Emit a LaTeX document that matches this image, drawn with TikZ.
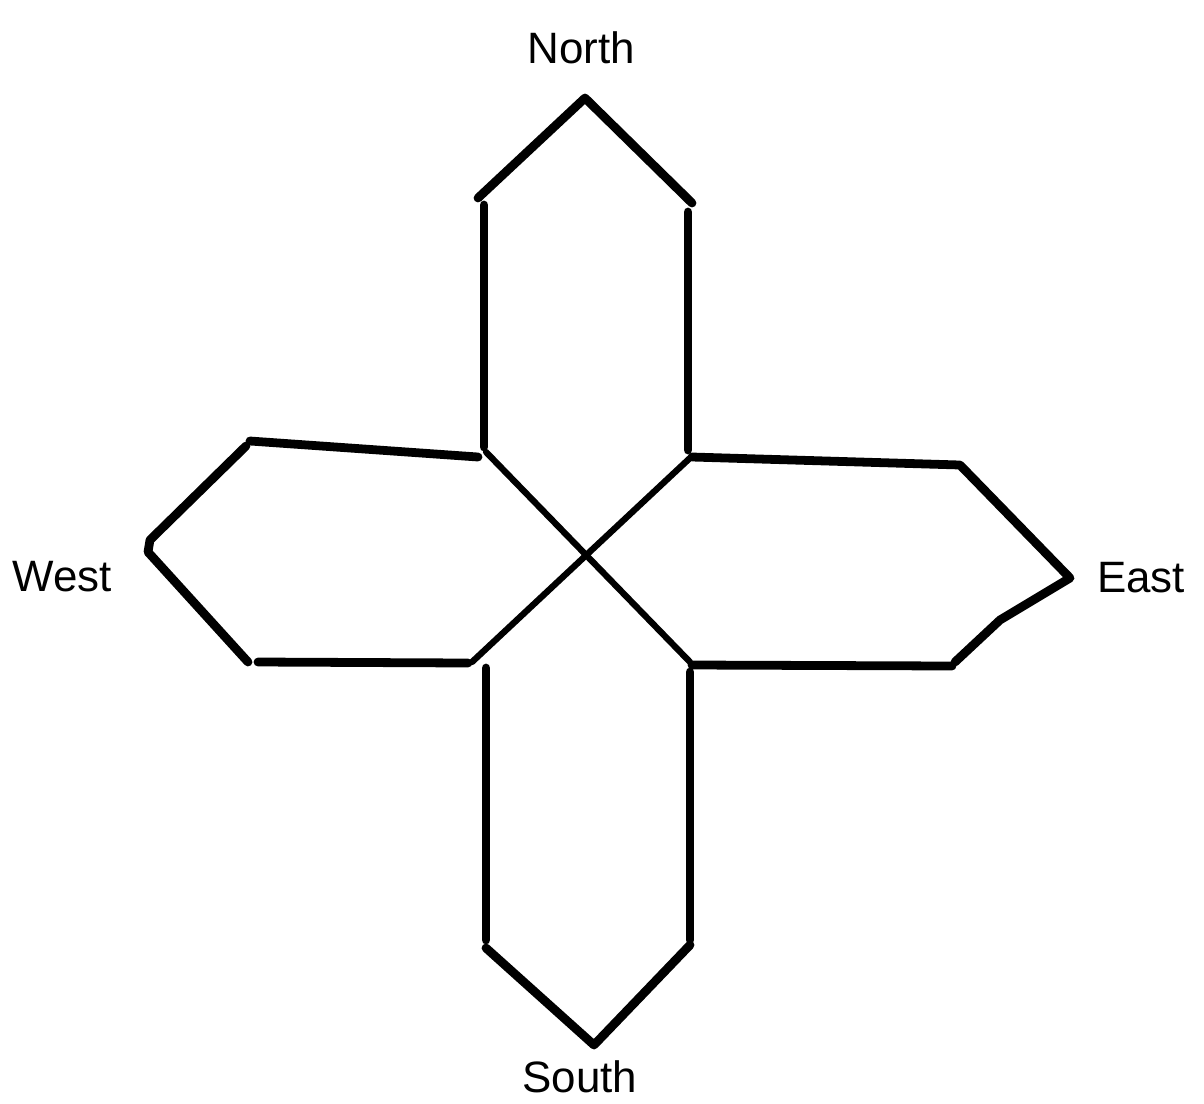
\documentclass[tikz,border=0pt]{standalone}
\usepackage{fontspec}
\setmainfont{Liberation Sans}
\begin{document}
\begin{tikzpicture}[x=0.02cm,y=-0.02cm,
  stroke/.style={line width=5pt,line cap=round,line join=round,black},
  thin stroke/.style={line width=3.6pt,line cap=round,line join=round,black},
  lbl/.style={font=\fontsize{25}{30}\selectfont,inner sep=0pt}]
\useasboundingbox[fill=white] (0,0) rectangle (1204,1103);
% North arm
\draw[stroke] (478,198) -- (585,98) -- (692,203);
\draw[stroke] (484,205) -- (484,447);
\draw[stroke] (688,212) -- (688,450);
% diagonals
\draw[thin stroke] (486,452) -- (690,662);
\draw[thin stroke] (690,458) -- (472,662);
% West arm
\draw[stroke] (250,441) -- (478,457);
\draw[stroke] (246,446) -- (150,540) -- (148,552) -- (248,662);
\draw[stroke] (258,662) -- (468,663);
% East arm
\draw[stroke] (692,457) -- (960,465) -- (1070,578) -- (1000,620) -- (955,662);
\draw[stroke] (952,666) -- (692,665);
% South arm
\draw[stroke] (486,668) -- (486,940);
\draw[stroke] (690,672) -- (690,940);
\draw[stroke] (486,948) -- (594,1045) -- (690,945);
% labels
\node[lbl] (north) at (581,48) {North};
\node[lbl] (west) at (62,577) {West};
\node[lbl] (east) at (1141,578) {East};
\node[lbl] (south) at (580,1077) {South};
\end{tikzpicture}
\end{document}
